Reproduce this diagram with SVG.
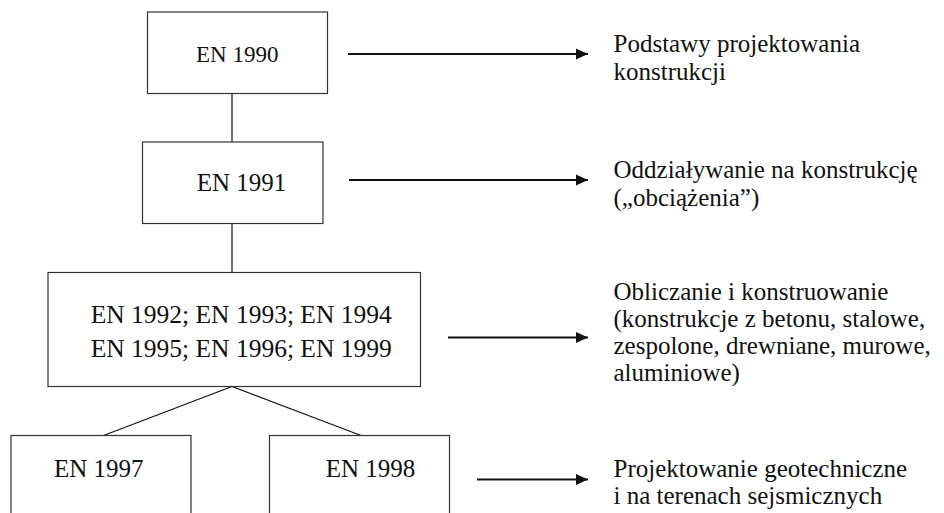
<svg xmlns="http://www.w3.org/2000/svg" width="944" height="513" viewBox="0 0 944 513">
<defs>
<style>
.box{fill:#fff;stroke:#333;stroke-width:1.2}
.t{font-family:'Liberation Serif','Times New Roman',Times,'DejaVu Serif',serif;fill:#111}
.c{stroke:#111;stroke-width:1.2;fill:none}
.a{stroke:#111;stroke-width:2;fill:none}
</style>
<marker id="ah" markerUnits="userSpaceOnUse" markerWidth="12" markerHeight="12" refX="12" refY="6" orient="auto">
<path d="M0,0.5 L12,6 L0,11.5 z" fill="#111"/>
</marker>
</defs>
<rect width="944" height="513" fill="#fff"/>
<g id="connectors">
<line class="c" x1="232" y1="93.5" x2="232" y2="142"/>
<line class="c" x1="232" y1="223.5" x2="232" y2="272.5"/>
<line class="c" x1="232" y1="386.5" x2="103.5" y2="435.5"/>
<line class="c" x1="232" y1="386.5" x2="361" y2="435.5"/>
<line class="a" x1="348" y1="54" x2="588" y2="54" marker-end="url(#ah)"/>
<line class="a" x1="349" y1="180" x2="588" y2="180" marker-end="url(#ah)"/>
<line class="a" x1="448" y1="337.5" x2="588" y2="337.5" marker-end="url(#ah)"/>
<line class="a" x1="477" y1="479.5" x2="588" y2="479.5" marker-end="url(#ah)"/>
</g>
<g id="en1990">
<rect class="box" x="147.5" y="12" width="180" height="81.5"/>
<text class="t" x="196" y="61.7" font-family="Liberation Serif, serif" font-size="23">EN 1990</text>
</g>
<g id="en1991">
<rect class="box" x="142.5" y="142" width="180.5" height="81.5"/>
<text class="t" x="196.7" y="190.7" font-family="Liberation Serif, serif" font-size="25">EN 1991</text>
</g>
<g id="en1992">
<rect class="box" x="48" y="272.5" width="372.5" height="114"/>
<text class="t" x="90.7" y="322.7" font-family="Liberation Serif, serif" font-size="25.5">EN 1992; EN 1993; EN 1994</text>
<text class="t" x="90.7" y="357.3" font-family="Liberation Serif, serif" font-size="25.5">EN 1995; EN 1996; EN 1999</text>
</g>
<g id="en1997">
<rect class="box" x="11" y="435.5" width="180" height="100"/>
<text class="t" x="54" y="477.3" font-family="Liberation Serif, serif" font-size="25">EN 1997</text>
</g>
<g id="en1998">
<rect class="box" x="269.5" y="435.5" width="180" height="100"/>
<text class="t" x="325.7" y="477.3" font-family="Liberation Serif, serif" font-size="25">EN 1998</text>
</g>
<g id="desc1" font-family="Liberation Serif, serif" font-size="25">
<text class="t" x="613.5" y="51.7" font-family="Liberation Serif, serif">Podstawy projektowania</text>
<text class="t" x="613.5" y="80" font-family="Liberation Serif, serif">konstrukcji</text>
</g>
<g id="desc2" font-size="25">
<text class="t" x="613.5" y="178" font-family="Liberation Serif, serif">Oddziaływanie na konstrukcję</text>
<text class="t" x="613.5" y="206" font-family="Liberation Serif, serif">(„obciążenia”)</text>
</g>
<g id="desc3" font-size="25">
<text class="t" x="613.5" y="299.5" font-family="Liberation Serif, serif">Obliczanie i konstruowanie</text>
<text class="t" x="613.5" y="327" font-family="Liberation Serif, serif">(konstrukcje z betonu, stalowe,</text>
<text class="t" x="613.5" y="354" font-family="Liberation Serif, serif">zespolone, drewniane, murowe,</text>
<text class="t" x="613.5" y="381" font-family="Liberation Serif, serif">aluminiowe)</text>
</g>
<g id="desc4" font-size="25">
<text class="t" x="613.5" y="477" font-family="Liberation Serif, serif">Projektowanie geotechniczne</text>
<text class="t" x="613.5" y="504" font-family="Liberation Serif, serif">i na terenach sejsmicznych</text>
</g>
</svg>
